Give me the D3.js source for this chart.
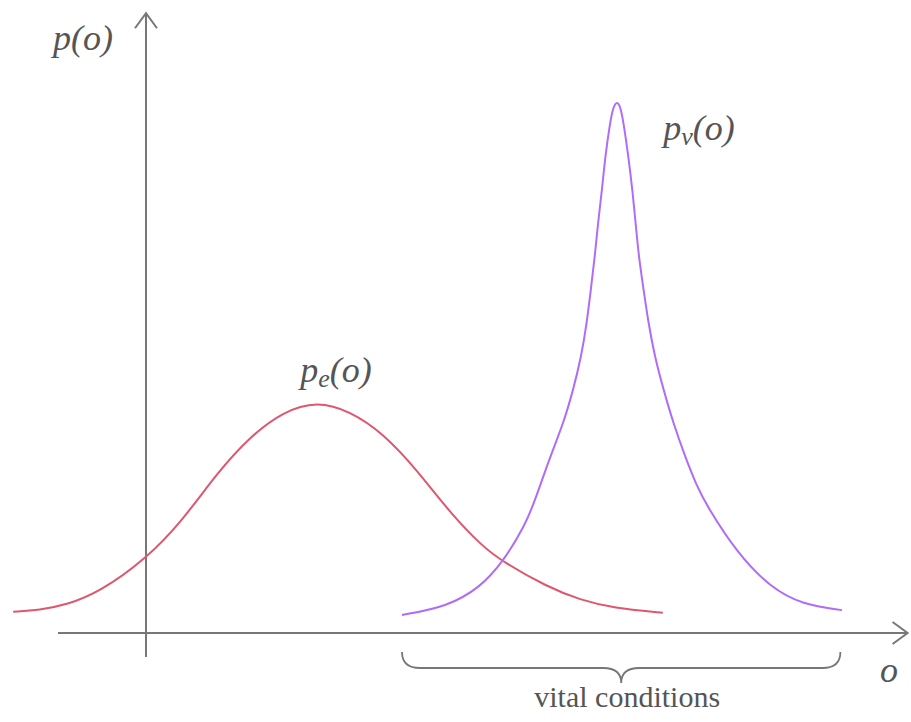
<!DOCTYPE html>
<html>
<head>
<meta charset="utf-8">
<script src="https://cdn.jsdelivr.net/npm/d3@7"></script>
<style>
  body { margin: 0; background: #fff; }
  svg { display: block; }
</style>
</head>
<body>
<div id="chart"></div>
<script>
// Curves: o value and density p(o)
const envO = [-1.66, -1.33, -0.99, -0.58, 0, 0.46, 0.89, 1.3, 1.71, 2.14, 2.55, 2.96, 3.39, 3.8, 4.21, 4.46, 5.01, 5.43, 5.84, 6.46];
const envP = [0.040, 0.043, 0.053, 0.077, 0.139, 0.212, 0.301, 0.369, 0.416, 0.436, 0.417, 0.376, 0.306, 0.226, 0.162, 0.134, 0.087, 0.062, 0.047, 0.038];

const vitO = [3.2, 3.76, 4.18, 4.46, 4.74, 4.86, 5.05, 5.22, 5.34, 5.44, 5.51, 5.56, 5.61, 5.65, 5.7, 5.74, 5.8, 5.84, 5.89,
              5.93, 5.97, 6.03, 6.08, 6.12, 6.16, 6.22, 6.28, 6.36, 6.47, 6.59, 6.74, 6.88, 7.01, 7.39, 7.8, 8.21, 8.7];
const vitP = [0.034, 0.049, 0.086, 0.133, 0.203, 0.248, 0.331, 0.395, 0.457, 0.519, 0.583, 0.645, 0.707, 0.771, 0.833, 0.895, 0.959, 0.989, 1.0,
              0.989, 0.959, 0.895, 0.833, 0.771, 0.707, 0.645, 0.583, 0.519, 0.457, 0.395, 0.331, 0.278, 0.239, 0.150, 0.086, 0.053, 0.043];

const seriesNames = ["p_e(o)", "p_v(o)"];
const braceSpan = [3.2, 8.68];
const braceText = "vital conditions";

const W = 911, H = 722;
const serif = '"Liberation Serif", "Times New Roman", Times, "DejaVu Serif", "Noto Serif", serif';

const x = d3.scaleLinear().domain([0, 10]).range([146, 946]);
const y = d3.scaleLinear().domain([0, 1]).range([633, 101]);

const svg = d3.select('#chart').append('svg')
    .attr('width', W)
    .attr('height', H);

const axisColor = '#777';

// axes with open arrow heads
const x0 = x(-1.1), x1 = x(9.52), y0 = y(0);
const yTop = y(1.165), yBot = y(-0.045);
svg.append('path')
    .attr('d', `M${x0},${y0}H${x1}M${x1 - 15},${y0 - 11}L${x1},${y0}L${x1 - 15},${y0 + 11}`)
    .attr('fill', 'none').attr('stroke', axisColor).attr('stroke-width', 2);
svg.append('path')
    .attr('d', `M${x(0)},${yBot}V${yTop}M${x(0) - 11},${yTop + 15}L${x(0)},${yTop}L${x(0) + 11},${yTop + 15}`)
    .attr('fill', 'none').attr('stroke', axisColor).attr('stroke-width', 2);

// basis smoothing irons out small reading errors in the sampled points
const line = d3.line()
    .x(d => x(d[0]))
    .y(d => y(d[1]))
    .curve(d3.curveBasis);

svg.append('path')
    .datum(d3.zip(envO, envP))
    .attr('d', line)
    .attr('fill', 'none')
    .attr('stroke', '#e0566f')
    .attr('stroke-width', 2);

svg.append('path')
    .datum(d3.zip(vitO, vitP))
    .attr('d', line)
    .attr('fill', 'none')
    .attr('stroke', '#b06cf8')
    .attr('stroke-width', 2);

// labels like p_e(o): subscript after the first letter
function fnLabel(px, py, name) {
    const [base, rest] = name.split('_');
    const t = svg.append('text')
        .attr('x', px).attr('y', py)
        .attr('font-family', serif)
        .attr('font-style', 'italic')
        .attr('fill', '#555')
        .attr('font-size', 36);
    t.append('tspan').text(base);
    if (rest) {
        t.append('tspan').attr('dy', 5).attr('font-size', 26).text(rest[0]);
        t.append('tspan').attr('dy', -5).text(rest.slice(1));
    }
}
fnLabel(53, 50, 'p(o)');
fnLabel(x(2.14) - 17, 382, seriesNames[0]);
fnLabel(x(5.89) + 46, 140, seriesNames[1]);

svg.append('text')
    .attr('x', 880).attr('y', 682)
    .attr('font-family', serif)
    .attr('font-style', 'italic')
    .attr('fill', '#555')
    .attr('font-size', 36)
    .text('o');

// curly brace under the axis
const bx0 = x(braceSpan[0]), bx1 = x(braceSpan[1]);
const bm = (bx0 + bx1) / 2;
const bTop = y0 + 19, bMid = y0 + 35, bTip = y0 + 50;
svg.append('path')
    .attr('d', `M${bx0},${bTop}Q${bx0},${bMid} ${bx0 + 18},${bMid}L${bm - 18},${bMid}Q${bm},${bMid} ${bm},${bTip}` +
               `Q${bm},${bMid} ${bm + 18},${bMid}L${bx1 - 18},${bMid}Q${bx1},${bMid} ${bx1},${bTop}`)
    .attr('fill', 'none').attr('stroke', axisColor).attr('stroke-width', 1.8);

svg.append('text')
    .attr('x', bm + 6).attr('y', 707)
    .attr('text-anchor', 'middle')
    .attr('font-family', serif)
    .attr('fill', '#555')
    .attr('font-size', 30)
    .text(braceText);
</script>
</body>
</html>
